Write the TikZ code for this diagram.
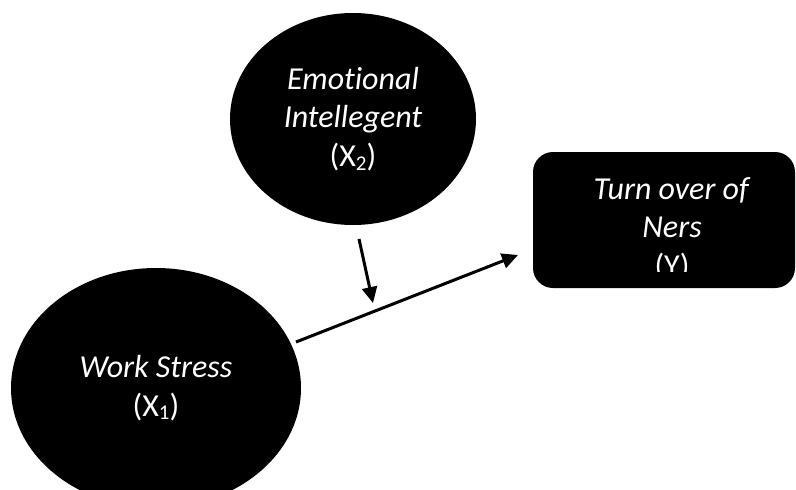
\documentclass[tikz,border=0pt]{standalone}
\usepackage{fontspec}
\setmainfont[Ligatures={NoCommon}]{Carlito}
\usetikzlibrary{shapes.geometric,arrows.meta}
\newcommand{\mysub}[1]{\raisebox{-0.12em}{\fontsize{21}{21}\selectfont #1}}
\tikzset{
  blob/.style={ellipse, fill=black, draw=none, inner sep=0pt, text=white, align=center,
    font=\fontsize{32}{38.5}\selectfont},
  boxnode/.style={rectangle, rounded corners=20pt, fill=black, draw=none, inner sep=0pt},
  labeltext/.style={text=white, align=center, font=\fontsize{32}{38.5}\selectfont},
  conn/.style={line width=3pt, -{Triangle[length=16pt,width=15pt]}}
}
\begin{document}
\begin{tikzpicture}[x=1pt,y=-1pt]
\useasboundingbox (0,0) rectangle (796,490);
\begin{scope}
\clip (0,0) rectangle (796,490);
\node[blob, minimum width=246pt, minimum height=212pt] (ei) at (353,119)
  {\textit{Emotional}\\\textit{Intellegent}\\(X\mysub{2})};
\node[blob, minimum width=290pt, minimum height=240pt] (ws) at (156,388)
  {\textit{Work Stress}\\(X\mysub{1})};
\node[boxnode, minimum width=262pt, minimum height=136pt] (turn) at (664,220) {};
\end{scope}
\begin{scope}
\clip (533,150) rectangle (796,271);
\node[labeltext] (turntext) at (672,229) {\textit{Turn over of}\\\textit{Ners}\\(Y)};
\end{scope}
\coordinate (a1s) at (296,342);
\coordinate (a1e) at (518,255);
\coordinate (a2s) at (359,239);
\coordinate (a2e) at (373,303);
\draw[conn] (a1s) -- (a1e);
\draw[conn] (a2s) -- (a2e);
\end{tikzpicture}
\end{document}
